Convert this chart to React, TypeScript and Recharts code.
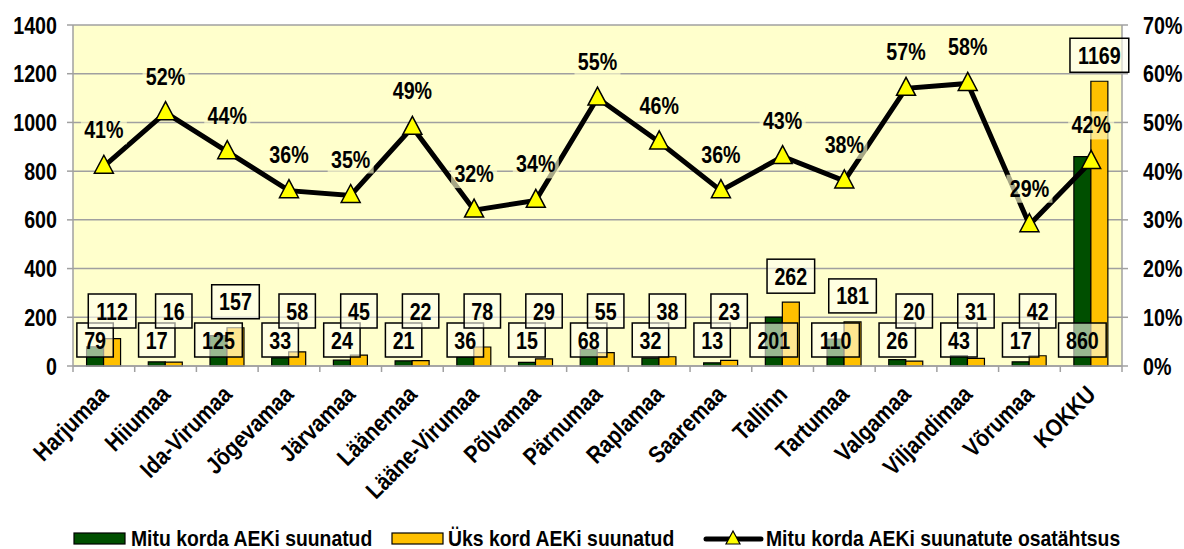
import React from 'react'
import {
  ComposedChart,
  Bar,
  Line,
  XAxis,
  YAxis,
  CartesianGrid,
  LabelList
} from 'recharts'

// maakonnad + kokku
const categories = [
  'Harjumaa', 'Hiiumaa', 'Ida-Virumaa', 'Jõgevamaa', 'Järvamaa', 'Läänemaa',
  'Lääne-Virumaa', 'Põlvamaa', 'Pärnumaa', 'Raplamaa', 'Saaremaa', 'Tallinn',
  'Tartumaa', 'Valgamaa', 'Viljandimaa', 'Võrumaa', 'KOKKU'
]
const mituKorda = [79, 17, 125, 33, 24, 21, 36, 15, 68, 32, 13, 201, 110, 26, 43, 17, 860]
const yksKord = [112, 16, 157, 58, 45, 22, 78, 29, 55, 38, 23, 262, 181, 20, 31, 42, 1169]
const osakaal = [0.41, 0.52, 0.44, 0.36, 0.35, 0.49, 0.32, 0.34, 0.55, 0.46, 0.36, 0.43, 0.38, 0.57, 0.58, 0.29, 0.42]

const leftTicks = [0, 200, 400, 600, 800, 1000, 1200, 1400]
const rightTicks = [0, 0.1, 0.2, 0.3, 0.4, 0.5, 0.6, 0.7]

const data = categories.map((name, i) => ({
  name,
  mitu: mituKorda[i],
  yks: yksKord[i],
  osa: osakaal[i]
}))

const W = 1184
const H = 549
const LEFT_W = 73
const RIGHT_W = 62
const BAND = (W - LEFT_W - RIGHT_W) / categories.length

// Arial Narrow puudub -> Arial bold kitsendatuna
const FONT = "'Liberation Sans', Arial, sans-serif"
const SX = 0.82
const GREEN = '#004f00'
const ORANGE = '#ffc000'
const GRID = '#a0a0a0'

const NText = ({ x, y, anchor = 'middle', size = 24, rotate, sx = SX, children }: any) => (
  <text
    transform={`translate(${x},${y})${rotate ? ` rotate(${rotate})` : ''} scale(${sx},1)`}
    textAnchor={anchor}
    fontFamily={FONT}
    fontWeight="bold"
    fontSize={size}
    fill="#000"
  >
    {children}
  </text>
)

const boxWidth = (text: string) => text.length * 11.2 + 14

// numbrikast (poolläbipaistev, must ääris)
const NumBox = ({ cx, bottom, text }: { cx: number; bottom: number; text: string }) => {
  const w = boxWidth(text)
  return (
    <g>
      <rect x={cx - w / 2} y={bottom - 34} width={w} height={34}
        fill="rgba(255,255,240,0.6)" stroke="#000" strokeWidth={1.5} />
      <NText x={cx} y={bottom - 8.5}>{text}</NText>
    </g>
  )
}

// mõlema tulba sildid joonistatakse siit, et üks kord kast jääks peale
const BarLabels = (props: any) => {
  const { x, y, width, height, index } = props
  const barBottom = y + height
  const yksBottom = Math.min(y - 9, barBottom - 38)
  return (
    <g>
      <NumBox cx={x - width / 2} bottom={barBottom - 9} text={String(mituKorda[index])} />
      <NumBox cx={x + width / 2} bottom={yksBottom} text={String(yksKord[index])} />
    </g>
  )
}

const PctLabel = (props: any) => {
  const { x, y, value } = props
  return (
    <g>
      <rect x={x - 23} y={y - 50} width={46} height={28} fill="rgba(255,255,204,0.65)" />
      <NText x={x} y={y - 28}>{`${Math.round(value * 100)}%`}</NText>
    </g>
  )
}

const Triangle = (props: any) => {
  const { cx, cy } = props
  if (cx == null || cy == null) return null
  return (
    <path d={`M${cx},${cy - 11} L${cx + 9.5},${cy + 7} L${cx - 9.5},${cy + 7} Z`}
      fill="#ffff00" stroke="#000" strokeWidth={1.5} />
  )
}

const CategoryTick = (props: any) => {
  const { x, y, payload, index } = props
  return (
    <g>
      {index === 0 && <line x1={x - BAND / 2} x2={x - BAND / 2} y1={y} y2={y + 6} stroke={GRID} strokeWidth={1.5} />}
      <line x1={x + BAND / 2} x2={x + BAND / 2} y1={y} y2={y + 6} stroke={GRID} strokeWidth={1.5} />
      <NText x={x + 6} y={y + 30} anchor="end" rotate={-45} size={24} sx={0.86}>{payload.value}</NText>
    </g>
  )
}

const LeftTick = (props: any) => {
  const { x, y, payload } = props
  return <NText x={x} y={y + 8.5} anchor="end">{payload.value}</NText>
}

const RightTick = (props: any) => {
  const { x, y, payload } = props
  return <NText x={x} y={y + 8.5} anchor="start">{`${Math.round(payload.value * 100)}%`}</NText>
}

const Legend = () => (
  <svg width={W} height={30} style={{ position: 'absolute', left: 0, top: 524 }}>
    <rect x={74} y={9} width={51} height={11} fill={GREEN} stroke="#000" strokeWidth={1.2} />
    <NText x={131} y={22} anchor="start" size={22} sx={0.88}>Mitu korda AEKi suunatud</NText>
    <rect x={392} y={9} width={51} height={11} fill={ORANGE} stroke="#000" strokeWidth={1.2} />
    <NText x={448} y={22} anchor="start" size={22} sx={0.88}>Üks kord AEKi suunatud</NText>
    <line x1={706} x2={761} y1={15} y2={15} stroke="#000" strokeWidth={5} strokeLinecap="round" />
    <path d="M733,7 L740,20 L726,20 Z" fill="#ffff00" stroke="#000" strokeWidth={1.2} />
    <NText x={766} y={22} anchor="start" size={22} sx={0.88}>Mitu korda AEKi suunatute osatähtsus</NText>
  </svg>
)

export default function App() {
  return (
    <div style={{ position: 'absolute', left: 0, top: 0, width: W, height: H, background: '#fff' }}>
      <ComposedChart width={W} height={H} data={data}
        margin={{ top: 25, right: 0, bottom: 0, left: 0 }}
        barCategoryGap="22%" barGap={0}>
        <CartesianGrid yAxisId="left" vertical={false} stroke={GRID} strokeWidth={1.5}
          fill="#ffffcc" fillOpacity={1} />
        <XAxis dataKey="name" height={183} interval={0} tick={<CategoryTick />}
          tickLine={false} tickSize={0} tickMargin={0} axisLine={{ stroke: GRID, strokeWidth: 1.5 }} />
        <YAxis yAxisId="left" width={LEFT_W} domain={[0, 1400]} ticks={leftTicks}
          tickSize={6} tickMargin={10} axisLine={{ stroke: GRID, strokeWidth: 1.5 }}
          tickLine={{ stroke: GRID, strokeWidth: 1.5 }} tick={<LeftTick />} />
        <YAxis yAxisId="right" orientation="right" width={RIGHT_W} domain={[0, 0.7]} ticks={rightTicks}
          tickSize={6} tickMargin={15} axisLine={{ stroke: GRID, strokeWidth: 1.5 }}
          tickLine={{ stroke: GRID, strokeWidth: 1.5 }} tick={<RightTick />} />
        <Bar yAxisId="left" dataKey="mitu" fill={GREEN} stroke="#000" strokeWidth={1.2} isAnimationActive={false} />
        <Bar yAxisId="left" dataKey="yks" fill={ORANGE} stroke="#000" strokeWidth={1.2} isAnimationActive={false}>
          <LabelList dataKey="yks" content={<BarLabels />} />
        </Bar>
        <Line yAxisId="right" dataKey="osa" stroke="#000" strokeWidth={5} dot={<Triangle />}
          activeDot={false} isAnimationActive={false}>
          <LabelList dataKey="osa" content={<PctLabel />} />
        </Line>
      </ComposedChart>
      <Legend />
    </div>
  )
}
